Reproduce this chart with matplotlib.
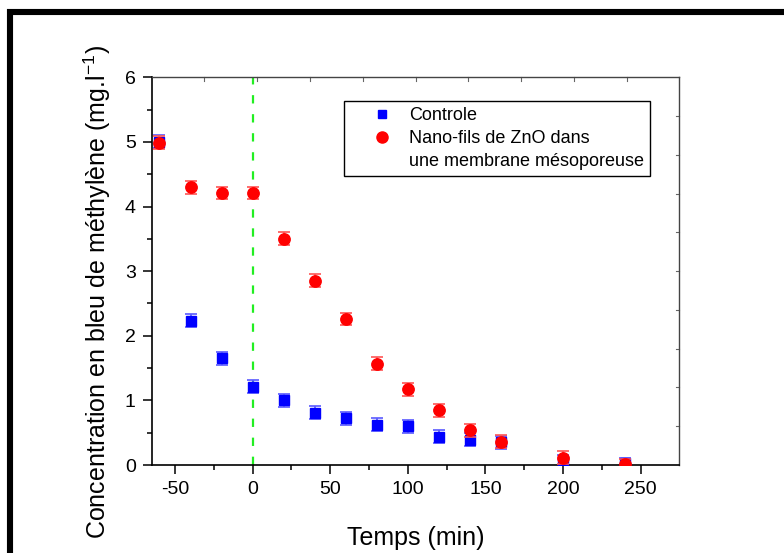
import matplotlib
matplotlib.use("Agg")
import matplotlib.pyplot as plt
from matplotlib.lines import Line2D

plt.rcParams.update({"font.family": ["Liberation Sans", "DejaVu Sans"],
                     "lines.scale_dashes": False,
                     "axes.unicode_minus": False})

# temps (min) et concentrations (mg/l)
temps = [-60, -40, -20, 0, 20, 40, 60, 80, 100, 120, 140, 160, 200, 240]
controle = [5.0, 2.23, 1.65, 1.21, 1.0, 0.81, 0.72, 0.62, 0.60, 0.44, 0.39, 0.35, 0.06, 0.03]
controle_err = [0.1, 0.1, 0.1, 0.1, 0.1, 0.1, 0.1, 0.1, 0.1, 0.1, 0.1, 0.1, 0.1, 0.08]
znO = [4.99, 4.30, 4.21, 4.21, 3.50, 2.85, 2.26, 1.57, 1.17, 0.85, 0.54, 0.36, 0.11, 0.02]
znO_err = [0.1, 0.1, 0.1, 0.1, 0.1, 0.1, 0.1, 0.1, 0.1, 0.1, 0.1, 0.1, 0.1, 0.08]
xticks = [-50, 0, 50, 100, 150, 200, 250]
yticks = [0, 1, 2, 3, 4, 5, 6]

fig = plt.figure(figsize=(7.84, 5.53), dpi=100)
ax = fig.add_axes([0.1935, 0.1591, 0.673, 0.7011])

ax.axvline(0, color="#22ee22", lw=1.6, dashes=(6, 7.7), zorder=1)

ax.errorbar(temps, controle, yerr=controle_err, fmt="none", ecolor="#5a5aff",
            elinewidth=1.2, capsize=4, capthick=1.2, zorder=3)
ax.plot(temps, controle, "s", color="#0000ff", ms=6.8, mec="#0000ff", zorder=4)
ax.errorbar(temps, znO, yerr=znO_err, fmt="none", ecolor="#ff5555",
            elinewidth=1.2, capsize=4, capthick=1.2, zorder=5)
ax.plot(temps, znO, "o", color="#ff0000", ms=8.2, mec="#ff0000", zorder=6)

ax.set_xlim(-65, 275)
ax.set_ylim(0, 6)
ax.set_xticks(xticks)
ax.set_yticks(yticks)
ax.set_xticks([t + 25 for t in xticks[:-1]], minor=True)
ax.set_yticks([y + 0.5 for y in yticks[:-1]], minor=True)
ax.tick_params(which="major", direction="out", length=6.5, width=1.1, labelsize=14, pad=5)
ax.tick_params(which="minor", direction="out", length=3.5, width=1.1)
for s in ("left", "bottom"):
    ax.spines[s].set_linewidth(1.2)
for s in ("top", "right"):
    ax.spines[s].set_linewidth(1.0)
    ax.spines[s].set_color("#444444")

# small inner ticks on top and right (Origin style)
for i in range(1, 10):
    ax.plot([i / 10, i / 10], [1, 0.99], transform=ax.transAxes, color="#666666", lw=0.8, clip_on=False)
    ax.plot([1, 0.994], [i / 10, i / 10], transform=ax.transAxes, color="#666666", lw=0.8, clip_on=False)

handles = [Line2D([], [], ls="none", marker="s", color="#0000ff", ms=6),
           Line2D([], [], ls="none", marker="o", color="#ff0000", ms=8),
           Line2D([], [], ls="none", marker="none")]
labels = ["Controle", "Nano-fils de ZnO dans", "une membrane mésoporeuse"]
leg = ax.legend(handles, labels, loc="upper left", bbox_to_anchor=(0.364, 0.939),
                fontsize=13, frameon=True, fancybox=False, framealpha=1,
                edgecolor="black", borderpad=0.35, handlelength=3.5,
                handletextpad=-0.25, labelspacing=0.32, borderaxespad=0)
leg.get_frame().set_linewidth(1.0)

fig.text(416 / 784, 1 - 538 / 553, "Temps (min)", ha="center", va="center", fontsize=18)
fig.text(97 / 784, 1 - 292 / 553, "Concentration en bleu de méthylène (mg.l$^{\\mathregular{-1}}$)",
         ha="center", va="center", rotation=90, fontsize=18)

# heavy frame lines (cropped from a larger figure)
fig.add_artist(Line2D([7 / 784, 1], [1 - 12 / 553, 1 - 12 / 553], color="black", lw=4.4,
                      transform=fig.transFigure, solid_capstyle="butt"))
fig.add_artist(Line2D([10 / 784, 10 / 784], [1 - 9 / 553, 0], color="black", lw=4.4,
                      transform=fig.transFigure, solid_capstyle="butt"))

fig.savefig("out.png", dpi=100)
